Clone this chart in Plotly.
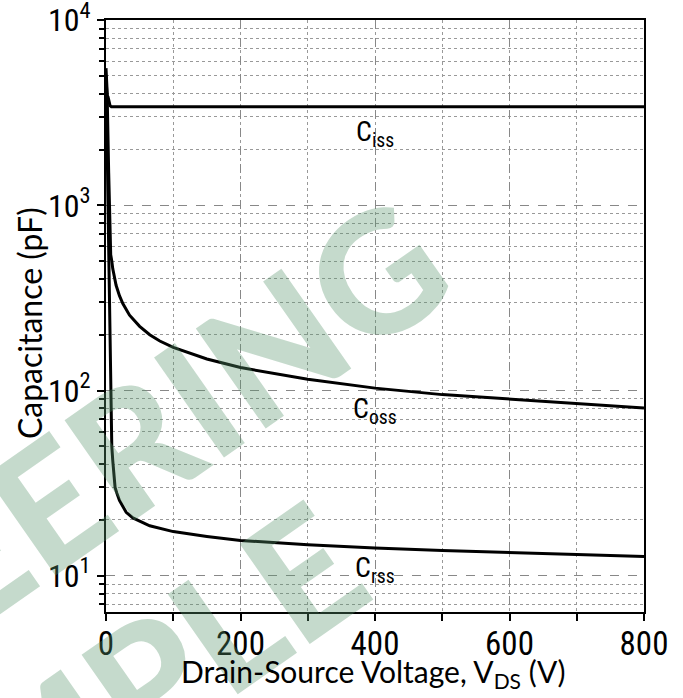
import math
import plotly.graph_objects as go

# ---- data ----
v_ciss = [0, 1, 2, 3, 4, 6, 8, 100, 200, 400, 600, 800]
ciss = [5500, 4300, 3900, 3850, 3700, 3450, 3400, 3400, 3400, 3400, 3400, 3400]

v_coss = [0, 2, 4, 5, 6, 7, 8.6, 10, 15, 20, 25, 35, 50, 65, 80, 100, 150, 200, 300, 400, 500, 600, 700, 800]
coss = [5000, 3500, 1500, 900, 620, 540, 500, 455, 370, 325, 295, 255, 222, 200, 185, 171, 148, 133, 115, 103, 95, 90, 85, 80.5]

v_crss = [0, 1, 2, 3, 4, 5, 6, 7, 8.6, 10, 13.5, 16, 20, 30, 40, 65, 100, 150, 200, 300, 400, 500, 600, 700, 800]
crss = [4000, 3000, 1800, 1000, 600, 300, 165, 90, 50, 42, 30, 28, 25.5, 22, 20.5, 18.6, 17.3, 16.3, 15.5, 14.7, 14.1, 13.7, 13.3, 13.0, 12.7]

x_major = [0, 200, 400, 600, 800]
y_major = [10, 100, 1000, 10000]
y_major_text = ["10<sup>1</sup>", "10<sup>2</sup>", "10<sup>3</sup>", "10<sup>4</sup>"]
y_minor = [m * 10 ** k for k in range(0, 4) for m in range(2, 10)]

label_text = ["C<sub>iss</sub>", "C<sub>oss</sub>", "C<sub>rss</sub>"]
label_v = [400, 400, 400]
label_c = [2430, 77.6, 10.8]

FONT = "Lato"
NUMFONT = "Roboto Condensed"

fig = go.Figure()
for vx, vy in [(v_ciss, ciss), (v_coss, coss), (v_crss, crss)]:
    fig.add_trace(go.Scatter(x=vx, y=vy, mode="lines",
                             line=dict(color="black", width=3), showlegend=False,
                             hoverinfo="skip"))

for txt, lx, ly in zip(label_text, label_v, label_c):
    fig.add_annotation(x=lx, y=math.log10(ly), yref="y", xref="x", text=txt, showarrow=False,
                       font=dict(family=NUMFONT, size=28, color="black"),
                       xanchor="center", yanchor="middle")

# watermark (two rotated lines)
WM = dict(family=FONT, size=168, color="rgba(90,150,110,0.35)", weight=900)
fig.add_annotation(xref="paper", yref="paper", x=-0.2714, y=0.0828, text="ENGINEERING",
                   showarrow=False, textangle=-35, font=WM, xanchor="center", yanchor="middle")
fig.add_annotation(xref="paper", yref="paper", x=-0.0632, y=-0.201, text="SAMPLE",
                   showarrow=False, textangle=-35, font=WM, xanchor="center", yanchor="middle")

# axis titles
fig.add_annotation(xref="paper", yref="paper", x=0.4963, y=-0.103,
                   text="Drain-Source Voltage, V<sub>DS</sub> (V)", showarrow=False,
                   font=dict(family=FONT, size=30, color="black"), xanchor="center", yanchor="middle")
fig.add_annotation(xref="paper", yref="paper", x=-0.1431, y=0.488,
                   text="Capacitance (pF)", showarrow=False, textangle=-90,
                   font=dict(family=FONT, size=32, color="black"), xanchor="center", yanchor="middle")

fig.update_layout(
    width=683, height=698,
    margin=dict(l=106, r=39, t=20, b=86, autoexpand=False),
    paper_bgcolor="white", plot_bgcolor="white",
    font=dict(family=FONT, color="black"),
)

fig.update_xaxes(
    range=[0, 800], tickvals=x_major, ticks="outside", ticklen=7, tickwidth=1.5,
    tickcolor="black", tickfont=dict(size=33, family=NUMFONT), ticklabeloverflow="allow",
    ticklabelstandoff=-6, automargin=False,
    showline=True, linecolor="black", linewidth=2, mirror=True,
    showgrid=True, gridcolor="#888888", gridwidth=1, griddash="dash",
    minor=dict(dtick=100, ticks="outside", ticklen=7, tickcolor="black",
               showgrid=True, gridcolor="#999999", griddash="dot", gridwidth=1),
    zeroline=False,
)
fig.update_yaxes(
    type="log", range=[0.804, 4.0005], tickvals=y_major, ticktext=y_major_text,
    ticks="outside", ticklen=7, tickwidth=1.5, tickcolor="black",
    tickfont=dict(size=32, family=NUMFONT), ticklabeloverflow="allow", automargin=False,
    showline=True, linecolor="black", linewidth=2, mirror=True,
    showgrid=True, gridcolor="#888888", gridwidth=1, griddash="dash",
    minor=dict(tickvals=y_minor, ticks="outside", ticklen=5, tickcolor="black",
               showgrid=True, gridcolor="#999999", griddash="dot", gridwidth=1),
    zeroline=False,
)

fig.write_html("out.html", config={"displayModeBar": False},
               post_script="document.body.style.margin='0px';")
